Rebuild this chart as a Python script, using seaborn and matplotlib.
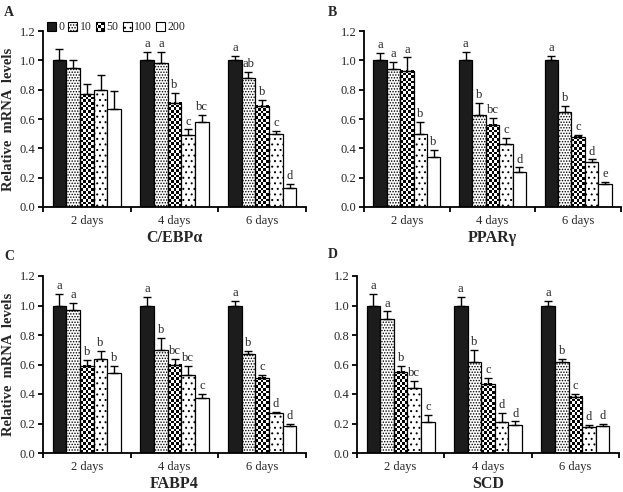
import numpy as np
import pandas as pd
import matplotlib
matplotlib.use('Agg')
import matplotlib.pyplot as plt
import seaborn as sns
from matplotlib.patches import Patch, Rectangle
from matplotlib.legend_handler import HandlerBase

# =============================================================================
# DATA
# =============================================================================
days = ['2 days', '4 days', '6 days']
doses = ['0', '10', '50', '100', '200']
genes = ['C/EBPα', 'PPARγ', 'FABP4', 'SCD']
panel_tags = ['A', 'B', 'C', 'D']

# rows = days, columns = doses
cebpa_mean = [[1.00, 0.95, 0.77, 0.80, 0.67],
              [1.00, 0.98, 0.71, 0.49, 0.58],
              [1.00, 0.88, 0.69, 0.50, 0.13]]
cebpa_err = [[0.08, 0.05, 0.07, 0.10, 0.12],
             [0.06, 0.08, 0.07, 0.04, 0.05],
             [0.03, 0.04, 0.04, 0.02, 0.03]]
cebpa_sig = [['', '', '', '', ''],
             ['a', 'a', 'b', 'c', 'bc'],
             ['a', 'ab', 'b', 'c', 'd']]

pparg_mean = [[1.00, 0.94, 0.93, 0.50, 0.34],
              [1.00, 0.63, 0.56, 0.43, 0.24],
              [1.00, 0.65, 0.48, 0.31, 0.155]]
pparg_err = [[0.05, 0.05, 0.09, 0.08, 0.05],
             [0.06, 0.08, 0.05, 0.04, 0.03],
             [0.03, 0.04, 0.01, 0.015, 0.015]]
pparg_sig = [['a', 'a', 'a', 'b', 'b'],
             ['a', 'b', 'bc', 'c', 'd'],
             ['a', 'b', 'c', 'd', 'e']]

fabp4_mean = [[1.00, 0.97, 0.59, 0.64, 0.54],
              [1.00, 0.70, 0.60, 0.53, 0.37],
              [1.00, 0.67, 0.51, 0.27, 0.18]]
fabp4_err = [[0.08, 0.05, 0.04, 0.05, 0.05],
             [0.06, 0.08, 0.04, 0.06, 0.03],
             [0.03, 0.02, 0.02, 0.01, 0.015]]
fabp4_sig = [['a', 'a', 'b', 'b', 'b'],
             ['a', 'b', 'bc', 'bc', 'c'],
             ['a', 'b', 'c', 'd', 'd']]

scd_mean = [[1.00, 0.91, 0.55, 0.44, 0.21],
            [1.00, 0.62, 0.47, 0.21, 0.19],
            [1.00, 0.62, 0.38, 0.175, 0.18]]
scd_err = [[0.08, 0.05, 0.04, 0.05, 0.05],
           [0.06, 0.08, 0.04, 0.06, 0.025],
           [0.03, 0.02, 0.02, 0.015, 0.015]]
scd_sig = [['a', 'a', 'b', 'bc', 'c'],
           ['a', 'b', 'c', 'd', 'd'],
           ['a', 'b', 'c', 'd', 'd']]

all_mean = [cebpa_mean, pparg_mean, fabp4_mean, scd_mean]
all_err = [cebpa_err, pparg_err, fabp4_err, scd_err]
all_sig = [cebpa_sig, pparg_sig, fabp4_sig, scd_sig]

# =============================================================================
# STYLE
# =============================================================================
sns.set_theme(style='ticks')
plt.rcParams['font.family'] = ['Liberation Serif', 'DejaVu Serif']
plt.rcParams['hatch.linewidth'] = 0.7

palette = {'0': '#1c1c1c', '10': 'white', '50': 'white', '100': 'white', '200': 'white'}
hatches = {'0': '', '10': '......', '50': '', '100': '...', '200': ''}


class CheckerHandler(HandlerBase):
    # legend key drawn as a small checkerboard
    def create_artists(self, legend, orig_handle, xdescent, ydescent,
                       width, height, fontsize, trans):
        n = 3
        cw, ch = width / n, height / n
        arts = []
        for r in range(n):
            for c in range(n):
                col = 'black' if (r + c) % 2 == 0 else 'white'
                arts.append(Rectangle((-xdescent + c * cw, -ydescent + r * ch), cw, ch,
                                      facecolor=col, edgecolor='none', transform=trans))
        arts.append(Rectangle((-xdescent, -ydescent), width, height, facecolor='none',
                              edgecolor='black', linewidth=0.8, transform=trans))
        return arts


fig = plt.figure(figsize=(6.23, 4.92), dpi=100)
W, H = 623, 492
# axes boxes in pixels: left, top, width, height
boxes = [(43, 31, 263, 176), (364, 31, 257, 176),
         (43, 276, 263, 177), (357, 276, 262, 177)]
tag_pos = [(4, 12), (328, 12), (4, 257), (328, 255)]

for k in range(4):
    l, t, w, h = boxes[k]
    ax = fig.add_axes([l / W, 1 - (t + h) / H, w / W, h / H])

    df = pd.DataFrame([{'day': days[i], 'dose': doses[j], 'value': all_mean[k][i][j]}
                       for i in range(3) for j in range(5)])
    sns.barplot(data=df, x='day', y='value', hue='dose', order=days, hue_order=doses,
                palette=palette, errorbar=None, width=0.78, saturation=1,
                edgecolor='black', linewidth=0.9, legend=False, ax=ax)

    ax.set_xlim(-0.5, 2.5)
    ax.set_ylim(0, 1.2)

    bar_conts = list(ax.containers)
    for j, cont in enumerate(bar_conts):
        dose = doses[j]
        for i, bar in enumerate(cont):
            bar.set_hatch(hatches[dose])
            bar.set_zorder(2)
            x0, bw, bh = bar.get_x(), bar.get_width(), bar.get_height()
            if dose == '50':
                # checkerboard fill
                bar.set_facecolor('none')
                p0 = ax.transData.transform((x0, 0))
                p1 = ax.transData.transform((x0 + bw, bh))
                ncol = max(1, int(round((p1[0] - p0[0]) / 2.7)))
                nrow = max(1, int(round((p1[1] - p0[1]) / 2.7)))
                board = np.add.outer(np.arange(nrow), np.arange(ncol)) % 2
                ax.imshow(board, cmap='gray', extent=(x0, x0 + bw, 0, bh), origin='lower',
                          aspect='auto', interpolation='nearest', zorder=1.5)
            xc = x0 + bw / 2
            err = all_err[k][i][j]
            ax.errorbar(xc, bh, yerr=[[0], [err]], fmt='none', ecolor='black',
                        elinewidth=1.0, capsize=2.7, capthick=1.0, zorder=3)
            lab = all_sig[k][i][j]
            if lab:
                ax.text(xc, bh + err + 0.012, lab, ha='center', va='bottom', fontsize=9)

    ax.set_xlim(-0.5, 2.5)
    ax.set_ylim(0, 1.2)
    ax.set_yticks(np.arange(0, 1.21, 0.2))
    ax.set_yticklabels([f'{v:.1f}' for v in np.arange(0, 1.21, 0.2)], fontsize=9)
    ax.set_xticks([0, 1, 2])
    ax.set_xticklabels(days, fontsize=9)
    ax.set_xticks([-0.5, 0.5, 1.5, 2.5], minor=True)
    ax.tick_params(axis='x', which='major', length=0, pad=6)
    ax.tick_params(axis='x', which='minor', length=3.5, width=1.3, direction='out', color='black')
    ax.tick_params(axis='y', length=3.5, width=1.3, direction='out', color='black', pad=2)
    for s in ['top', 'right']:
        ax.spines[s].set_visible(False)
    for s in ['left', 'bottom']:
        ax.spines[s].set_color('black')
        ax.spines[s].set_linewidth(1.3)

    ax.set_xlabel(genes[k], fontsize=11.5, fontweight='bold', labelpad=2)
    if k in (0, 2):
        ax.set_ylabel('Relative  mRNA  levels', fontsize=10.5, fontweight='bold', labelpad=3)
    else:
        ax.set_ylabel('')

    fig.text(tag_pos[k][0] / W, 1 - tag_pos[k][1] / H, panel_tags[k],
             fontsize=10, fontweight='bold', va='center', ha='left')

    if k == 0:
        handles = [Patch(facecolor=palette[d], edgecolor='black', hatch=hatches[d],
                         linewidth=0.8, label=d) for d in doses]
        handler_map = {handles[2]: CheckerHandler()}
        ax.legend(handles=handles, handler_map=handler_map, loc='center left',
                  bbox_to_anchor=(0.015, 1.02), ncol=5, frameon=False, fontsize=8.5,
                  handlelength=0.75, handleheight=0.75, handletextpad=0.2,
                  columnspacing=0.35, borderpad=0, borderaxespad=0)

fig.savefig('out.png', dpi=100)
